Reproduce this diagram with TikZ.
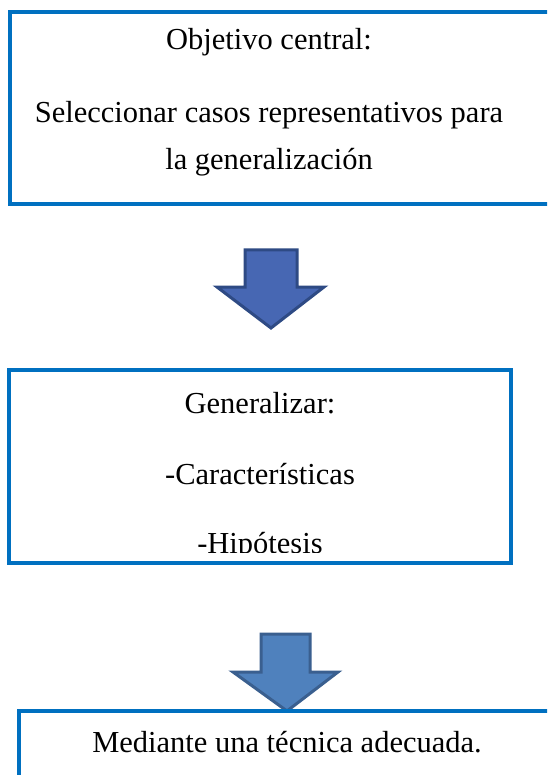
\documentclass[tikz,border=0pt]{standalone}
\usepackage{fontspec}
\setmainfont{Liberation Serif}
\usepackage{tikz}
\usetikzlibrary{positioning, calc}
\definecolor{boxblue}{HTML}{0070C0}
\definecolor{arrowfillA}{HTML}{4767B3}
\definecolor{arrowlineA}{HTML}{2E4A84}
\definecolor{arrowfillB}{HTML}{4F81BD}
\definecolor{arrowlineB}{HTML}{3A5F8F}

\begin{document}
\begin{tikzpicture}[x=1pt, y=-1pt,
    box/.style={draw=boxblue, line width=4.5pt},
    txt/.style={anchor=base, inner sep=0pt, font=\fontsize{30.5}{36}\selectfont},
    blockarrow/.style={line width=3pt, line join=miter}]
  % page frame (reference size, right/bottom boxes run off the page)
  \clip (0,0) rectangle (547,775);
  \fill[white] (0,0) rectangle (547,775);

  % Box 1 - objective
  \draw[box] (10,12) rectangle (565,204);
  \node[txt] (objtitle) at (269,50) {Objetivo central:};
  \node[txt] (objline1) at (269,123) {Seleccionar casos representativos para};
  \node[txt] (objline2) at (269,170) {la generalización};

  % Arrow 1
  \draw[blockarrow, fill=arrowfillA, draw=arrowlineA]
    (245,250) -- (297,250) -- (297,287) -- (324,287) -- (271,328)
    -- (217,287) -- (245,287) -- cycle;

  % Box 2 - generalize (last line is cut by the frame)
  \draw[box] (9,370) rectangle (511,563);
  \node[txt] (gentitle) at (260,413) {Generalizar:};
  \node[txt] (genline1) at (260,484) {-Características};
  \begin{scope}
    \clip (12,373) rectangle (508,552);
    \node[txt] (genline2) at (260,553) {-Hipótesis};
  \end{scope}

  % Arrow 2
  \draw[blockarrow, fill=arrowfillB, draw=arrowlineB]
    (261,634) -- (310,634) -- (310,672) -- (338,672) -- (287,711)
    -- (233,672) -- (261,672) -- cycle;

  % Box 3 - technique
  \draw[box] (19,711) rectangle (565,800);
  \node[txt] (technique) at (287,752) {Mediante una técnica adecuada.};
\end{tikzpicture}
\end{document}
